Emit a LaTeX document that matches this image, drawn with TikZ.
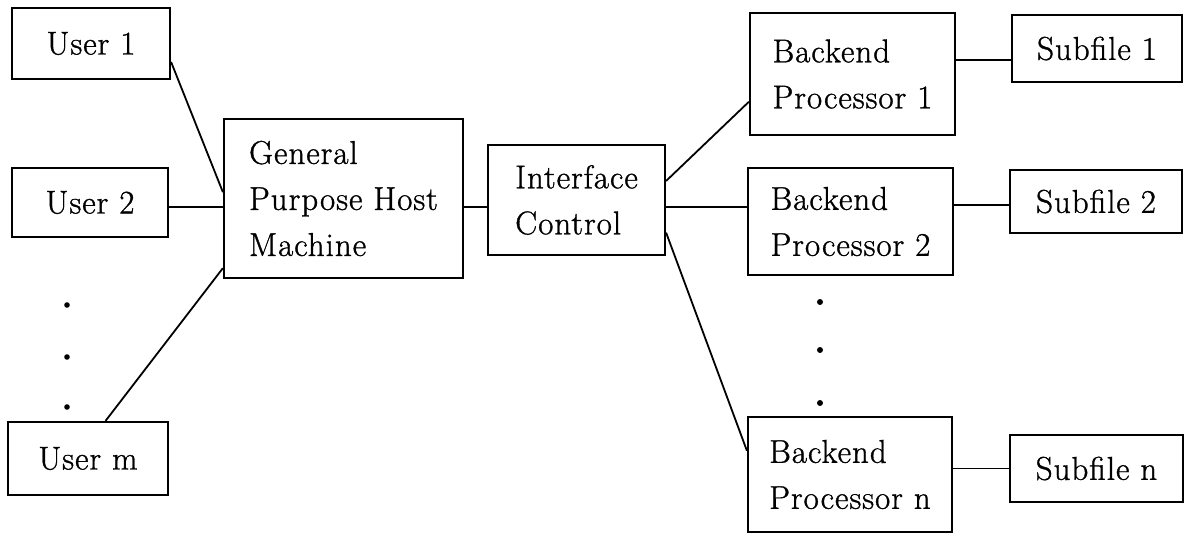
\documentclass[tikz,border=0pt]{standalone}
\usepackage{fontspec}
\setmainfont{Latin Modern Roman}[LetterSpace=3,FakeBold=1]
\begin{document}
\begin{tikzpicture}[x=1pt,y=-1pt,
  box/.style={draw, line width=2.2pt, inner sep=0pt, align=left,
    font=\fontsize{33}{46}\selectfont},
  link/.style={line width=1.8pt},
  dotmark/.style={fill=black}]
\useasboundingbox (0,0) rectangle (1184,533);
% left column
\node[box, minimum width=158pt, minimum height=71pt] (u1) at (91,43.5) {User 1};
\node[box, minimum width=156pt, minimum height=69pt] (u2) at (90,202.5) {User 2};
\node[box, minimum width=160pt, minimum height=73pt] (um) at (88,458.5) {User m};
% centre
\node[box, minimum width=239pt, minimum height=159pt] (host) at (343.5,198.5) {General\\Purpose Host\\Machine};
\node[box, minimum width=177pt, minimum height=110pt] (ic) at (576.5,200) {Interface\\Control};
% backends
\node[box, minimum width=205pt, minimum height=122pt] (bp1) at (852.5,74) {Backend\\Processor 1};
\node[box, minimum width=205pt, minimum height=107pt] (bp2) at (850.5,221.5) {Backend\\Processor 2};
\node[box, minimum width=204pt, minimum height=115pt] (bpn) at (850,474.5) {Backend\\Processor n};
% subfiles
\node[box, minimum width=170pt, minimum height=67pt] (sf1) at (1097,48.5) {Subfile 1};
\node[box, minimum width=172pt, minimum height=63pt] (sf2) at (1096,201.5) {Subfile 2};
\node[box, minimum width=173pt, minimum height=67pt] (sfn) at (1096.5,468.5) {Subfile n};
% connectors
\draw[link] (u1.-13) -- (host.177);
\draw[link] ([yshift=-4.5pt]u2.east) -- ([yshift=-4.5pt]u2.east -| host.west);
\draw[link] (um.65) -- (host.210);
\draw[link] ([yshift=-7pt]ic.west) -- ([yshift=-7pt]ic.west -| host.east);
\draw[link] (ic.12.7) -- (bp1.195);
\draw[link] ([yshift=-7pt]ic.east) -- ([yshift=-7pt]ic.east -| bp2.west);
\draw[link] (ic.-20.5) -- (bpn.167.6);
\draw[link] ([yshift=-11.5pt]sf1.west) -- ([yshift=-11.5pt]sf1.west -| bp1.east);
\draw[link] ([yshift=-3.5pt]sf2.west) -- ([yshift=-3.5pt]sf2.west -| bp2.east);
\draw[link] (sfn.west) -- (sfn.west -| bpn.east);
% ellipsis dots
\foreach \yy in {305,357,407} \fill[dotmark] (67,\yy) circle (2.8pt);
\foreach \yy in {302,350,403} \fill[dotmark] (820,\yy) circle (3pt);
\end{tikzpicture}
\end{document}
